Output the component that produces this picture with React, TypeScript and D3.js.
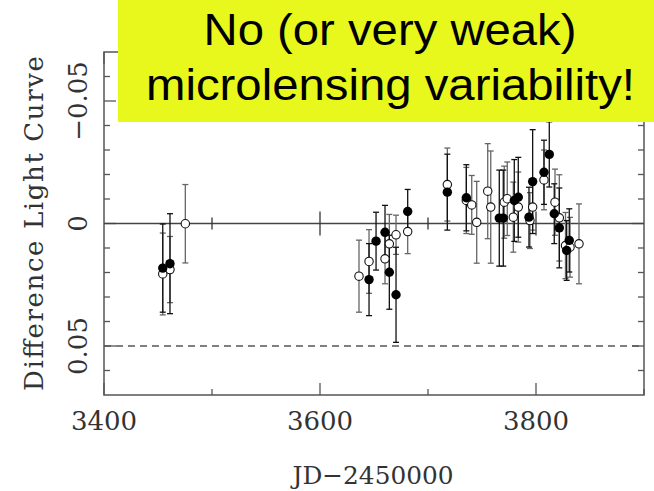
import React from "react";
import * as d3 from "d3";

// ---- data (JD-2450000, difference light curve, error) ----
const filledJD = [3454.4, 3461.1, 3645.4, 3651.9, 3660.2, 3664.2, 3670.4, 3681.2, 3717.9, 3735.5, 3766.0, 3769.7, 3779.9, 3783.6, 3793.5, 3796.9, 3807.4, 3812.3, 3816.9, 3821.6, 3828.4, 3830.8];
const filledVal = [0.0182, 0.0164, 0.0229, 0.0072, 0.0036, 0.0199, 0.0291, -0.0049, -0.0128, -0.0105, -0.0022, -0.0022, -0.0094, -0.0107, -0.0026, -0.0171, -0.0209, -0.0282, -0.004, 0.0018, 0.011, 0.0069];
const filledErr = [0.018, 0.0204, 0.0147, 0.0118, 0.011, 0.0151, 0.0194, 0.009, 0.0155, 0.0135, 0.0196, 0.0196, 0.0167, 0.0163, 0.0122, 0.0212, 0.0131, 0.0133, 0.0122, 0.0163, 0.0122, 0.0129];

const openJD = [3454.4, 3461.1, 3475.3, 3636.1, 3645.4, 3660.2, 3664.2, 3670.4, 3681.2, 3717.9, 3735.5, 3740.5, 3745.1, 3755.3, 3758.1, 3770.6, 3773.4, 3779.0, 3783.6, 3794.4, 3796.9, 3807.4, 3817.6, 3821.6, 3827.3, 3831.5, 3839.8];
const openVal = [0.0206, 0.0188, 0.0001, 0.0215, 0.0155, 0.0144, 0.0083, 0.0046, 0.0033, -0.0159, -0.0094, -0.0076, -0.0005, -0.0132, -0.0067, -0.0087, -0.0101, -0.0026, -0.0067, -0.0012, -0.0067, -0.0178, -0.0087, -0.0023, 0.009, 0.0097, 0.0083];
const openErr = [0.0167, 0.0135, 0.016, 0.0147, 0.013, 0.0102, 0.012, 0.008, 0.009, 0.0149, 0.0135, 0.012, 0.0167, 0.0194, 0.0229, 0.0147, 0.015, 0.0143, 0.0143, 0.0114, 0.0094, 0.0122, 0.0135, 0.0176, 0.0135, 0.0122, 0.0163];

const xTickLabels = [3400, 3600, 3800];
const xTicksAll = [3400, 3500, 3600, 3700, 3800, 3900];
const yTickLabels = [-0.05, 0, 0.05];
const yTicksAll = [-0.06, -0.05, -0.04, -0.03, -0.02, -0.01, 0, 0.01, 0.02, 0.03, 0.04, 0.05, 0.06];
const dashedLevel = 0.05;

const titleLines = ["No (or very weak)", "microlensing variability!"];

export default function App() {
  const W = 654, H = 491;
  const left = 104, right = 644, top = 52, bottom = 395;
  const x = d3.scaleLinear().domain([3400, 3900]).range([left, right]);
  const y = d3.scaleLinear().domain([-0.07, 0.07]).range([top, bottom]);
  const serif = "'DejaVu Serif', serif";
  const axisCol = "#555";
  const isMajorX = (v: number) => xTickLabels.includes(v);
  const isMajorY = (v: number) => yTickLabels.some((t) => Math.abs(t - v) < 1e-9);
  const fmtY = (v: number) => (v === 0 ? "0" : (v < 0 ? "\u22120.05" : "0.05"));

  const filled = filledJD.map((d, i) => ({ x: d, v: filledVal[i], e: filledErr[i] }));
  const open = openJD.map((d, i) => ({ x: d, v: openVal[i], e: openErr[i] }));
  const cap = 3;

  const errBar = (p: { x: number; v: number; e: number }, col: string, k: string) => {
    const cx = x(p.x);
    const y1 = y(p.v - p.e), y2 = y(p.v + p.e);
    return (
      <g key={k} stroke={col} strokeWidth={1.3}>
        <line x1={cx} x2={cx} y1={y1} y2={y2} />
        <line x1={cx - cap} x2={cx + cap} y1={y1} y2={y1} />
        <line x1={cx - cap} x2={cx + cap} y1={y2} y2={y2} />
      </g>
    );
  };

  return (
    <svg width={W} height={H} style={{ position: "absolute", left: 0, top: 0, background: "#fff" }}>
      <rect x={0} y={0} width={W} height={H} fill="#fff" />
      {/* frame */}
      <rect x={left} y={top} width={right - left} height={bottom - top} fill="none" stroke={axisCol} strokeWidth={1.5} />
      {/* x ticks bottom & top */}
      {xTicksAll.map((t) => {
        const len = isMajorX(t) ? 12 : 6;
        return (
          <g key={"xt" + t} stroke={axisCol} strokeWidth={1.3}>
            <line x1={x(t)} x2={x(t)} y1={bottom} y2={bottom - len} />
            <line x1={x(t)} x2={x(t)} y1={top} y2={top + len} />
          </g>
        );
      })}
      {/* y ticks left & right */}
      {yTicksAll.map((t) => {
        const len = isMajorY(t) ? 12 : 6;
        return (
          <g key={"yt" + t} stroke={axisCol} strokeWidth={1.3}>
            <line x1={left} x2={left + len} y1={y(t)} y2={y(t)} />
            <line x1={right} x2={right - len} y1={y(t)} y2={y(t)} />
          </g>
        );
      })}
      {/* zero line with ticks */}
      <line x1={left} x2={right} y1={y(0)} y2={y(0)} stroke="#444" strokeWidth={1.3} />
      {xTicksAll.filter((t) => t > 3400 && t < 3900).map((t) => {
        const len = isMajorX(t) ? 12 : 6;
        return <line key={"zt" + t} x1={x(t)} x2={x(t)} y1={y(0) - len} y2={y(0) + len} stroke="#333" strokeWidth={1.3} />;
      })}
      {/* dashed line */}
      <line x1={left} x2={right} y1={y(dashedLevel)} y2={y(dashedLevel)} stroke={axisCol} strokeWidth={1.3} strokeDasharray="7,5" />
      {/* x tick labels */}
      {xTickLabels.map((t) => (
        <text key={"xl" + t} x={x(t)} y={430} textAnchor="middle" fontFamily={serif} fontSize={26} fill="#333">{t}</text>
      ))}
      {/* y tick labels */}
      {yTickLabels.map((t) => (
        <text key={"yl" + t} transform={`translate(87,${y(t)}) rotate(-90)`} textAnchor="middle" fontFamily={serif} fontSize={26} fill="#333">{fmtY(t)}</text>
      ))}
      {/* axis titles */}
      <text x={373} y={484} textAnchor="middle" fontFamily={serif} fontSize={25} fill="#333" textLength={161} lengthAdjust="spacingAndGlyphs">JD{"\u2212"}2450000</text>
      <text transform={`translate(43,${(top + bottom) / 2}) rotate(-90)`} textAnchor="middle" fontFamily={serif} fontSize={26} fill="#333" textLength={335} lengthAdjust="spacing">Difference Light Curve</text>
      {/* data: open */}
      {open.map((p, i) => errBar(p, "#666", "oe" + i))}
      {filled.map((p, i) => errBar(p, "#111", "fe" + i))}
      {open.map((p, i) => (
        <circle key={"oc" + i} cx={x(p.x)} cy={y(p.v)} r={4.2} fill="#fff" stroke="#111" strokeWidth={1.1} />
      ))}
      {filled.map((p, i) => (
        <circle key={"fc" + i} cx={x(p.x)} cy={y(p.v)} r={4.7} fill="#000" />
      ))}
      {/* yellow annotation box */}
      <rect x={118} y={0} width={W - 118} height={122} fill="#e8f81c" />
      <text x={390} y={45} textAnchor="middle" fontFamily="'Liberation Sans', Arial, sans-serif" fontSize={44} fill="#000" textLength={373} lengthAdjust="spacingAndGlyphs">{titleLines[0]}</text>
      <text x={390.5} y={100} textAnchor="middle" fontFamily="'Liberation Sans', Arial, sans-serif" fontSize={44} fill="#000" textLength={489} lengthAdjust="spacingAndGlyphs">{titleLines[1]}</text>
    </svg>
  );
}
